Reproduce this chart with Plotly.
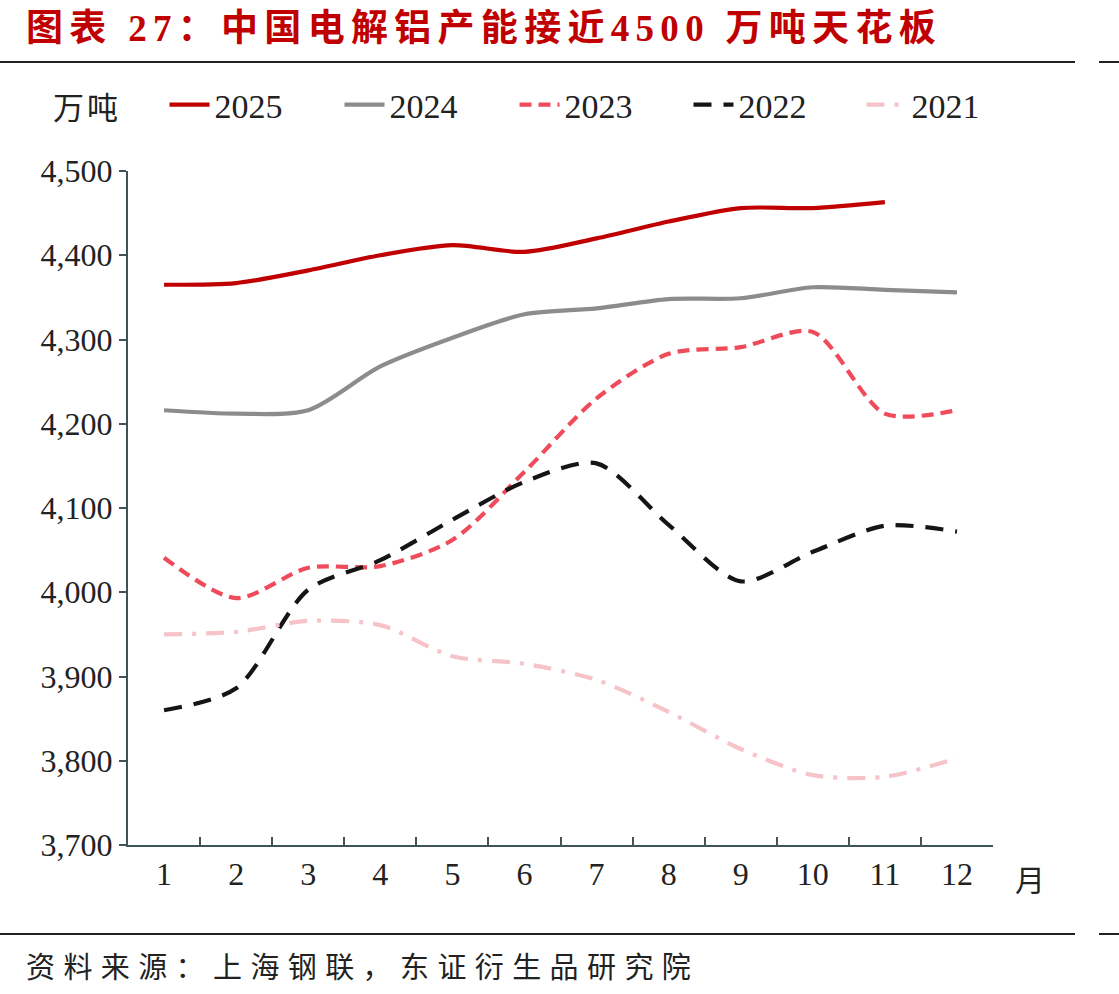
import plotly.graph_objects as go

months = [str(m) for m in range(1, 13)]
y2025 = [4365, 4367, 4382, 4400, 4412, 4404, 4420, 4440, 4456, 4456, 4463]
y2024 = [4216, 4212, 4216, 4268, 4302, 4330, 4337, 4348, 4349, 4362, 4359, 4356]
y2023 = [4041, 3993, 4029, 4031, 4062, 4143, 4230, 4283, 4291, 4309, 4212, 4216]
y2022 = [3860, 3886, 4003, 4038, 4086, 4131, 4153, 4080, 4013, 4048, 4079, 4072]
y2021 = [3950, 3953, 3966, 3961, 3924, 3915, 3896, 3858, 3814, 3783, 3781, 3803]
yticks = [3700, 3800, 3900, 4000, 4100, 4200, 4300, 4400, 4500]

SERIF = "Liberation Serif, Noto Sans CJK SC, serif"
CJK = "Noto Sans CJK SC, sans-serif"
AXIS = "#3f5459"

series = [
    ("2025", y2025, "#c00000", "solid"),
    ("2024", y2024, "#8c8c8c", "solid"),
    ("2023", y2023, "#f04b5a", "12px,7px"),
    ("2022", y2022, "#151515", "18px,12px"),
    ("2021", y2021, "#f6c3c8", "18px,10px,4px,10px"),
]
legend_starts = [168, 343, 518, 692, 865]  # legend sample x positions (px)

fig = go.Figure()
layout_legends = {}
for i, (name, ys, color, dash) in enumerate(series):
    lname = "legend" if i == 0 else f"legend{i+1}"
    fig.add_trace(go.Scatter(
        x=months[:len(ys)], y=ys, name=name, mode="lines", legend=lname,
        line=dict(color=color, width=4.2, dash=dash, shape="spline", smoothing=0.8),
    ))
    layout_legends[lname] = dict(
        orientation="h", x=(legend_starts[i] - 3.5 - 128) / 865, xanchor="left",
        y=(845 - 105) / 674, yanchor="middle",
        font=dict(family=SERIF, size=34, color="#222222"),
        itemwidth=40, bgcolor="rgba(0,0,0,0)",
    )

fig.update_layout(
    width=1119, height=994,
    margin=dict(l=128, r=126, t=171, b=149),
    paper_bgcolor="white", plot_bgcolor="white",
    font=dict(family=SERIF, size=32, color="#222222"),
    showlegend=True,
    xaxis=dict(
        type="category", categoryorder="array", categoryarray=months,
        range=[-0.5, 11.5], showgrid=False, zeroline=False,
        showline=True, linecolor=AXIS, linewidth=2,
        ticks="inside", tickson="boundaries", ticklen=8, tickcolor=AXIS, tickwidth=2,
        tickfont=dict(family=SERIF, size=32, color="#222222"),
    ),
    yaxis=dict(
        range=[3700, 4500], tickvals=yticks, tickformat=",d",
        showgrid=False, zeroline=False,
        showline=True, linecolor=AXIS, linewidth=2,
        ticks="outside", ticklen=7, tickcolor=AXIS, tickwidth=2,
        tickfont=dict(family=SERIF, size=32, color="#222222"),
    ),
    **layout_legends,
)

# Title
fig.add_annotation(
    xref="paper", yref="paper", x=-104/865, y=(845-28)/674, xanchor="left", yanchor="middle",
    text='<span style="letter-spacing:6.3px"><b>图表 27：中国电解铝产能接近4500 万吨天花板</b></span>',
    showarrow=False, font=dict(family=SERIF, size=37, color="#c00000"),
)
# Unit label
fig.add_annotation(
    xref="paper", yref="paper", x=-77/865, y=(845-105)/674, xanchor="left", yanchor="middle",
    text='<span style="letter-spacing:3px">万吨</span>', showarrow=False,
    font=dict(family=CJK, size=31, color="#222222"),
)
# Month label
fig.add_annotation(
    xref="paper", yref="paper", x=(1030-128)/865, y=(845-878)/674, xanchor="center", yanchor="middle",
    text="月", showarrow=False, font=dict(family=CJK, size=30, color="#222222"),
)
# Source
fig.add_annotation(
    xref="paper", yref="paper", x=-104/865, y=(845-965)/674, xanchor="left", yanchor="middle",
    text='<span style="letter-spacing:8.4px">资料来源：上海钢联，东证衍生品研究院</span>',
    showarrow=False, font=dict(family=CJK, size=29, color="#222222"),
)

# Separator rules
for yy in (62, 934):
    fig.add_shape(type="line", xref="paper", yref="paper",
                  x0=-128/865, x1=(1075-128)/865, y0=(845-yy)/674, y1=(845-yy)/674,
                  line=dict(color="#222222", width=2))
    fig.add_shape(type="line", xref="paper", yref="paper",
                  x0=(1099-128)/865, x1=(1119-128)/865, y0=(845-yy)/674, y1=(845-yy)/674,
                  line=dict(color="#222222", width=2))

fig.write_html("out.html")
